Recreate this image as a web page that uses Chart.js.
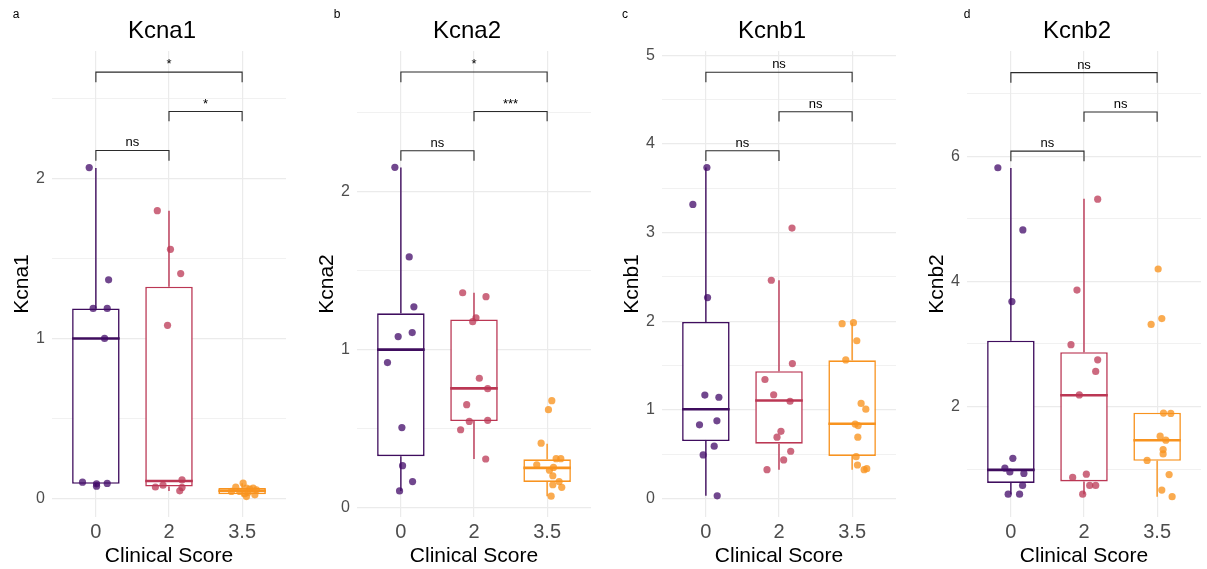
<!DOCTYPE html>
<html>
<head>
<meta charset="utf-8">
<title>Kcna / Kcnb expression by clinical score</title>
<script src="https://cdn.jsdelivr.net/npm/chart.js@4.4.1/dist/chart.umd.min.js"></script>
<style>
  body { margin: 0; background: #fff; }
  #wrap { position: relative; width: 1207px; height: 569px; overflow: hidden; }
  .panel { position: absolute; top: 0; width: 292px; height: 569px; }
</style>
</head>
<body>
<div id="wrap">
  <div class="panel" style="left:0px"><canvas id="chart-a" width="292" height="569"></canvas></div>
  <div class="panel" style="left:305px"><canvas id="chart-b" width="292" height="569"></canvas></div>
  <div class="panel" style="left:610px"><canvas id="chart-c" width="292" height="569"></canvas></div>
  <div class="panel" style="left:915px"><canvas id="chart-d" width="292" height="569"></canvas></div>
</div>
<script>
const FONT = '"Liberation Sans", Arial, sans-serif';

// groups on the x axis
const scoreLabels = ['0', '2', '3.5'];
const lineColors = ['#3f0d5e', '#BB3754', '#F8931F'];
const pointColors = ['rgba(66,10,104,0.75)', 'rgba(187,55,84,0.75)', 'rgba(248,147,31,0.78)'];

// box stats per group: [lower whisker, q1, median, q3, upper whisker]
// brackets: [from group, to group, bar height, tip height, label]

// Kcna1
const kcna1Stats = [
    [0.075, 0.09, 1.0, 1.188, 2.068],
    [0.045, 0.073, 0.107, 1.324, 1.80],
    [0.01, 0.025, 0.046, 0.063, 0.094]
];
const kcna1Values = [
    [2.07, 1.367, 1.188, 1.188, 1.0, 0.10, 0.09, 0.075, 0.092],
    [1.80, 1.558, 1.406, 1.082, 0.07, 0.081, 0.114, 0.046, 0.067],
    [0.094, 0.069, 0.042, 0.063, 0.057, 0.063, 0.052, 0.036, 0.028, 0.01, 0.021, 0.042]
];
const kcna1Jitter = [
    [-0.091, 0.174, -0.037, 0.155, 0.119, -0.183, 0.009, 0.009, 0.155],
    [-0.16, 0.02, 0.16, -0.02, -0.186, -0.082, 0.178, 0.147, 0.178],
    [0.014, -0.087, -0.146, 0.059, 0.105, 0.151, 0.196, 0.082, 0.037, 0.059, 0.174, -0.032]
];
const kcna1Brackets = [[0, 1, 2.177, 2.113, 'ns'], [1, 2, 2.421, 2.36, '*'], [0, 2, 2.668, 2.605, '*']];

// Kcna2
const kcna2Stats = [
    [0.108, 0.328, 1.002, 1.232, 2.154],
    [0.31, 0.55, 0.757, 1.193, 1.362],
    [0.075, 0.165, 0.254, 0.308, 0.406]
];
const kcna2Values = [
    [2.156, 1.589, 1.273, 1.11, 1.085, 0.92, 0.509, 0.268, 0.167, 0.108],
    [1.362, 1.337, 1.204, 1.179, 0.821, 0.755, 0.654, 0.548, 0.555, 0.495, 0.31],
    [0.679, 0.622, 0.41, 0.312, 0.312, 0.273, 0.257, 0.239, 0.204, 0.167, 0.147, 0.131, 0.075]
];
const kcna2Jitter = [
    [-0.082, 0.114, 0.178, 0.155, -0.037, -0.183, 0.014, 0.023, 0.16, -0.018],
    [-0.155, 0.164, 0.027, -0.018, 0.073, 0.187, -0.10, -0.064, 0.187, -0.183, 0.16],
    [0.064, 0.018, -0.082, 0.123, 0.187, -0.142, 0.087, 0.032, 0.078, 0.164, 0.078, 0.2, 0.055]
];
const kcna2Brackets = [[0, 1, 2.261, 2.197, 'ns'], [1, 2, 2.509, 2.447, '***'], [0, 2, 2.759, 2.695, '*']];

// Kcnb1
const kcnb1Stats = [
    [0.033, 0.65, 1.009, 1.993, 3.734],
    [0.327, 0.621, 1.107, 1.438, 2.463],
    [0.327, 0.482, 0.846, 1.56, 1.985]
];
const kcnb1Values = [
    [3.734, 3.317, 2.267, 1.168, 1.144, 0.833, 0.878, 0.592, 0.494, 0.033],
    [3.051, 2.463, 1.524, 1.344, 1.172, 1.099, 0.76, 0.694, 0.535, 0.437, 0.327],
    [1.973, 1.985, 1.781, 1.565, 1.074, 1.009, 0.842, 0.825, 0.694, 0.474, 0.38, 0.327, 0.339]
];
const kcnb1Jitter = [
    [0.014, -0.178, 0.023, -0.014, 0.178, -0.087, 0.151, 0.114, -0.037, 0.155],
    [0.178, -0.105, 0.183, -0.192, -0.073, 0.151, 0.027, -0.027, 0.16, 0.064, -0.164],
    [-0.137, 0.018, 0.064, -0.087, 0.123, 0.187, 0.041, 0.082, 0.078, 0.055, 0.073, 0.164, 0.2]
];
const kcnb1Brackets = [[0, 1, 3.922, 3.807, 'ns'], [1, 2, 4.363, 4.252, 'ns'], [0, 2, 4.808, 4.694, 'ns']];

// Kcnb2
const kcnb2Stats = [
    [0.6, 0.78, 0.988, 3.052, 5.809],
    [0.6, 0.803, 2.179, 2.867, 5.318],
    [0.56, 1.132, 1.462, 1.902, 1.902]
];
const kcnb2Values = [
    [5.815, 4.821, 3.676, 1.173, 1.017, 0.954, 0.931, 0.74, 0.6, 0.6],
    [5.312, 3.861, 2.988, 2.746, 2.561, 2.185, 0.867, 0.919, 0.74, 0.74, 0.6],
    [4.197, 3.405, 3.312, 1.896, 1.89, 1.526, 1.462, 1.312, 1.243, 1.139, 0.913, 0.665, 0.56]
];
const kcnb2Jitter = [
    [-0.178, 0.164, 0.014, 0.027, -0.082, -0.014, 0.178, 0.16, -0.037, 0.119],
    [0.187, -0.096, -0.178, 0.187, 0.16, -0.064, -0.155, 0.032, 0.078, 0.16, -0.018],
    [0.014, 0.064, -0.082, 0.087, 0.187, 0.041, 0.119, 0.082, 0.082, -0.137, 0.164, 0.064, 0.205]
];
const kcnb2Brackets = [[0, 1, 6.08, 5.919, 'ns'], [1, 2, 6.705, 6.549, 'ns'], [0, 2, 7.335, 7.173, 'ns']];

const BOX_WIDTH = 0.65;   // in category units

const panels = [
    { id: 'chart-a', letter: 'a', letterX: 16, gene: 'Kcna1', stats: kcna1Stats, values: kcna1Values, jitter: kcna1Jitter, brackets: kcna1Brackets, yMin: -0.118, yMax: 2.80, major: 1, minor: 0.5 },
    { id: 'chart-b', letter: 'b', letterX: 32, gene: 'Kcna2', stats: kcna2Stats, values: kcna2Values, jitter: kcna2Jitter, brackets: kcna2Brackets, yMin: -0.057, yMax: 2.892, major: 1, minor: 0.5 },
    { id: 'chart-c', letter: 'c', letterX: 15, gene: 'Kcnb1', stats: kcnb1Stats, values: kcnb1Values, jitter: kcnb1Jitter, brackets: kcnb1Brackets, yMin: -0.206, yMax: 5.047, major: 1, minor: 0.5 },
    { id: 'chart-d', letter: 'd', letterX: 52, gene: 'Kcnb2', stats: kcnb2Stats, values: kcnb2Values, jitter: kcnb2Jitter, brackets: kcnb2Brackets, yMin: 0.235, yMax: 7.68, major: 2, minor: 1 }
];

// panel letter, title and bracket labels
const panelText = {
    id: 'panelText',
    afterDatasetsDraw(chart, args, opts) {
        const ctx = chart.ctx;
        const area = chart.chartArea;
        const x = chart.scales.x, y = chart.scales.y;
        ctx.save();
        ctx.fillStyle = '#000';
        ctx.textAlign = 'center';
        ctx.textBaseline = 'middle';
        ctx.font = '12px ' + FONT;
        ctx.fillText(opts.letter, opts.letterX, 15);
        ctx.font = '24px ' + FONT;
        ctx.fillText(opts.gene, (area.left + area.right) / 2 - 7, 31);
        ctx.font = '13px ' + FONT;
        ctx.textBaseline = 'alphabetic';
        opts.brackets.forEach(function(b) {
            ctx.fillText(b[4], x.getPixelForValue((b[0] + b[1]) / 2), y.getPixelForValue(b[2]) - 4);
        });
        ctx.restore();
    }
};

function isMajor(v, major) {
    return Math.abs(v / major - Math.round(v / major)) < 1e-6;
}

function buildChart(p) {
    const datasets = [];

    // jittered points on top
    p.values.forEach(function(vals, g) {
        datasets.push({
            type: 'scatter',
            data: vals.map((v, k) => ({ x: g + p.jitter[g][k], y: v })),
            backgroundColor: pointColors[g],
            borderWidth: 0,
            pointRadius: 3.6,
            order: 0
        });
    });

    // medians
    p.stats.forEach(function(s, g) {
        datasets.push({
            type: 'line',
            data: [{ x: g - BOX_WIDTH / 2, y: s[2] }, { x: g + BOX_WIDTH / 2, y: s[2] }],
            borderColor: lineColors[g],
            borderWidth: 2.6,
            pointRadius: 0,
            order: 1
        });
    });

    // boxes
    datasets.push({
        type: 'bar',
        data: p.stats.map((s, g) => ({ x: g, y: [s[1], s[3]] })),
        backgroundColor: '#fff',
        borderColor: lineColors,
        borderWidth: 1.6,
        borderSkipped: false,
        barPercentage: BOX_WIDTH,
        categoryPercentage: 1,
        order: 2
    });

    // whiskers
    p.stats.forEach(function(s, g) {
        datasets.push({
            type: 'line',
            data: [{ x: g, y: s[0] }, { x: g, y: s[1] }, { x: g, y: null }, { x: g, y: s[3] }, { x: g, y: s[4] }],
            borderColor: lineColors[g],
            borderWidth: 1.4,
            pointRadius: 0,
            spanGaps: false,
            order: 3
        });
    });

    // significance brackets
    p.brackets.forEach(function(b) {
        datasets.push({
            type: 'line',
            data: [{ x: b[0], y: b[3] }, { x: b[0], y: b[2] }, { x: b[1], y: b[2] }, { x: b[1], y: b[3] }],
            borderColor: '#2b2b2b',
            borderWidth: 1.1,
            pointRadius: 0,
            order: 4
        });
    });

    const ctx = document.getElementById(p.id).getContext('2d');
    return new Chart(ctx, {
        type: 'scatter',
        data: { datasets: datasets },
        options: {
            responsive: false,
            animation: false,
            events: [],
            layout: { padding: { top: 51, right: 6, bottom: 0, left: 0 } },
            plugins: {
                legend: { display: false },
                tooltip: { enabled: false },
                title: { display: false },
                panelText: { letter: p.letter, letterX: p.letterX, gene: p.gene, brackets: p.brackets }
            },
            scales: {
                x: {
                    type: 'linear',
                    min: -0.6,
                    max: 2.6,
                    offset: false,
                    bounds: 'data',
                    afterBuildTicks: function(scale) {
                        scale.ticks = [0, 1, 2].map(v => ({ value: v }));
                    },
                    afterFit: function(scale) { scale.height = 52; },
                    ticks: {
                        autoSkip: false,
                        maxRotation: 0,
                        padding: 3,
                        color: '#4d4d4d',
                        font: { family: FONT, size: 20 },
                        callback: v => scoreLabels[v]
                    },
                    grid: { color: '#ebebeb', lineWidth: 1.2, drawTicks: false, offset: false },
                    border: { display: false },
                    title: {
                        display: true,
                        text: 'Clinical Score',
                        color: '#000',
                        font: { family: FONT, size: 21 },
                        padding: { top: 0, bottom: 0 }
                    }
                },
                y: {
                    type: 'linear',
                    min: p.yMin,
                    max: p.yMax,
                    bounds: 'data',
                    afterBuildTicks: function(scale) {
                        const t = [];
                        for (let v = Math.ceil(p.yMin / p.minor) * p.minor; v <= p.yMax + 1e-9; v += p.minor) {
                            t.push({ value: +v.toFixed(6) });
                        }
                        scale.ticks = t;
                    },
                    afterFit: function(scale) { scale.width = 52; },
                    ticks: {
                        autoSkip: false,
                        padding: 7,
                        color: '#4d4d4d',
                        font: { family: FONT, size: 16 },
                        callback: v => isMajor(v, p.major) ? String(v) : ''
                    },
                    grid: {
                        color: '#ebebeb',
                        drawTicks: false,
                        lineWidth: c => (c.tick && isMajor(c.tick.value, p.major)) ? 1.2 : 0.7
                    },
                    border: { display: false },
                    title: {
                        display: true,
                        text: p.gene,
                        color: '#000',
                        font: { family: FONT, size: 21 },
                        padding: { top: 10, bottom: 0 }
                    }
                }
            }
        },
        plugins: [panelText]
    });
}

panels.forEach(buildChart);
</script>
</body>
</html>
